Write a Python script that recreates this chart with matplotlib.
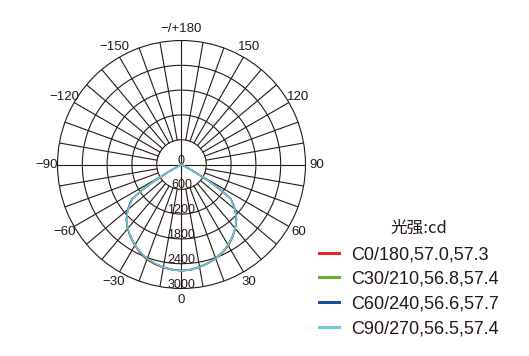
import numpy as np
import matplotlib
matplotlib.use("Agg")
import matplotlib.pyplot as plt
from matplotlib.lines import Line2D
from matplotlib.font_manager import FontProperties
from matplotlib.transforms import offset_copy

# gamma angles (deg), 0 = straight down
angles = [-63, -61, -59, -57, -55, -52, -50, -48, -45, -40, -35, -30, -25, -20,
          -15, -10, -5, 0, 5, 10, 15, 20, 25, 30, 35, 40, 45, 48, 50, 52, 55,
          57, 59, 61, 63]

# intensity (cd) per C-plane
c0_180 = [0, 300, 760, 1160, 1460, 1600, 1690, 1770, 1890, 2030, 2150, 2260,
          2370, 2450, 2500, 2535, 2560, 2575, 2560, 2525, 2480, 2425, 2355,
          2270, 2155, 2025, 1885, 1765, 1685, 1595, 1455, 1150, 750, 300, 0]
c30_210 = [0, 290, 750, 1150, 1450, 1595, 1685, 1760, 1880, 2020, 2140, 2250,
           2350, 2430, 2485, 2525, 2555, 2570, 2555, 2520, 2475, 2420, 2345,
           2255, 2140, 2020, 1880, 1760, 1680, 1590, 1450, 1145, 745, 295, 0]
c60_240 = [0, 310, 770, 1170, 1470, 1605, 1695, 1770, 1885, 2025, 2145, 2250,
           2345, 2425, 2480, 2520, 2550, 2565, 2550, 2515, 2470, 2415, 2340,
           2250, 2140, 2020, 1880, 1765, 1690, 1600, 1460, 1160, 760, 305, 0]
c90_270 = [0, 300, 750, 1150, 1450, 1590, 1680, 1760, 1880, 2020, 2140, 2250,
           2345, 2420, 2475, 2520, 2555, 2570, 2555, 2520, 2475, 2420, 2345,
           2250, 2140, 2020, 1880, 1760, 1680, 1590, 1450, 1150, 750, 300, 0]

series = [c0_180, c30_210, c60_240, c90_270]
names = ["C0/180,57.0,57.3", "C30/210,56.8,57.4",
         "C60/240,56.6,57.7", "C90/270,56.5,57.4"]
colors = ["#e8252a", "#5bb431", "#1f4a9a", "#6fcad8"]

rings = [600, 1200, 1800, 2400, 3000]
ring_labels = ["0", "600", "1200", "1800", "2400", "3000"]
angle_ticks = [0, 30, 60, 90, 120, 150, 180, -150, -120, -90, -60, -30]
angle_labels = ["0", "30", "60", "90", "120", "150", "\u2212/+180",
                "\u2212150", "\u2212120", "\u221290", "\u221260", "\u221230"]

ink = "#231815"

fig = plt.figure(figsize=(5.29, 3.56), dpi=100)
ax = fig.add_axes([0.1087, 0.1896, 0.4688, 0.6966], projection="polar")
ax.set_theta_zero_location("S")
ax.set_theta_direction(1)
ax.set_ylim(0, 3000)
ax.set_xticks([])
ax.set_yticks([])
ax.grid(False)
ax.spines["polar"].set_linewidth(0.8)
ax.spines["polar"].set_color(ink)

# grid: circles and spokes
full = np.linspace(0, 2 * np.pi, 361)
for r in rings[:-1]:
    ax.plot(full, [r] * len(full), color=ink, lw=0.8, zorder=1)
for t in range(0, 360, 10):
    r0 = 0 if t % 90 == 0 else 600
    ax.plot([np.radians(t)] * 2, [r0, 3000], color=ink, lw=0.8, zorder=1)

# ring labels along the 0 deg line
lab_tr = offset_copy(ax.transData, fig=fig, x=0, y=4, units="dots")
for r, s in zip([0] + rings, ring_labels):
    ax.text(0, r, s, transform=lab_tr, ha="center", va="center",
            fontsize=9, color=ink, family="Liberation Sans", zorder=2)

# angle labels outside
for a, s in zip(angle_ticks, angle_labels):
    ax.text(np.radians(a), 3270, s, ha="center", va="center", fontsize=9.5,
            color=ink, family="Liberation Sans", clip_on=False)

th = np.radians(angles)
for vals, c in zip(series, colors):
    ax.plot(th, vals, color=c, lw=1.1, zorder=3)

handles = [Line2D([], [], color=c, lw=2.2) for c in colors]
leg = ax.legend(handles, names, loc="upper left",
                bbox_to_anchor=(319 / 529, 1 - 246 / 356),
                bbox_transform=fig.transFigure, frameon=False, borderpad=0,
                borderaxespad=0, handlelength=1.1, handletextpad=0.67,
                labelspacing=0.43,
                prop=FontProperties(family="Liberation Sans", size=13))
for t in leg.get_texts():
    t.set_color(ink)

fig.text(419 / 529, 1 - 228 / 356, "光强:cd", ha="center", va="center",
         fontsize=12, color=ink, family=["Noto Sans CJK SC", "DejaVu Sans"])

fig.savefig("out.png", dpi=100)
